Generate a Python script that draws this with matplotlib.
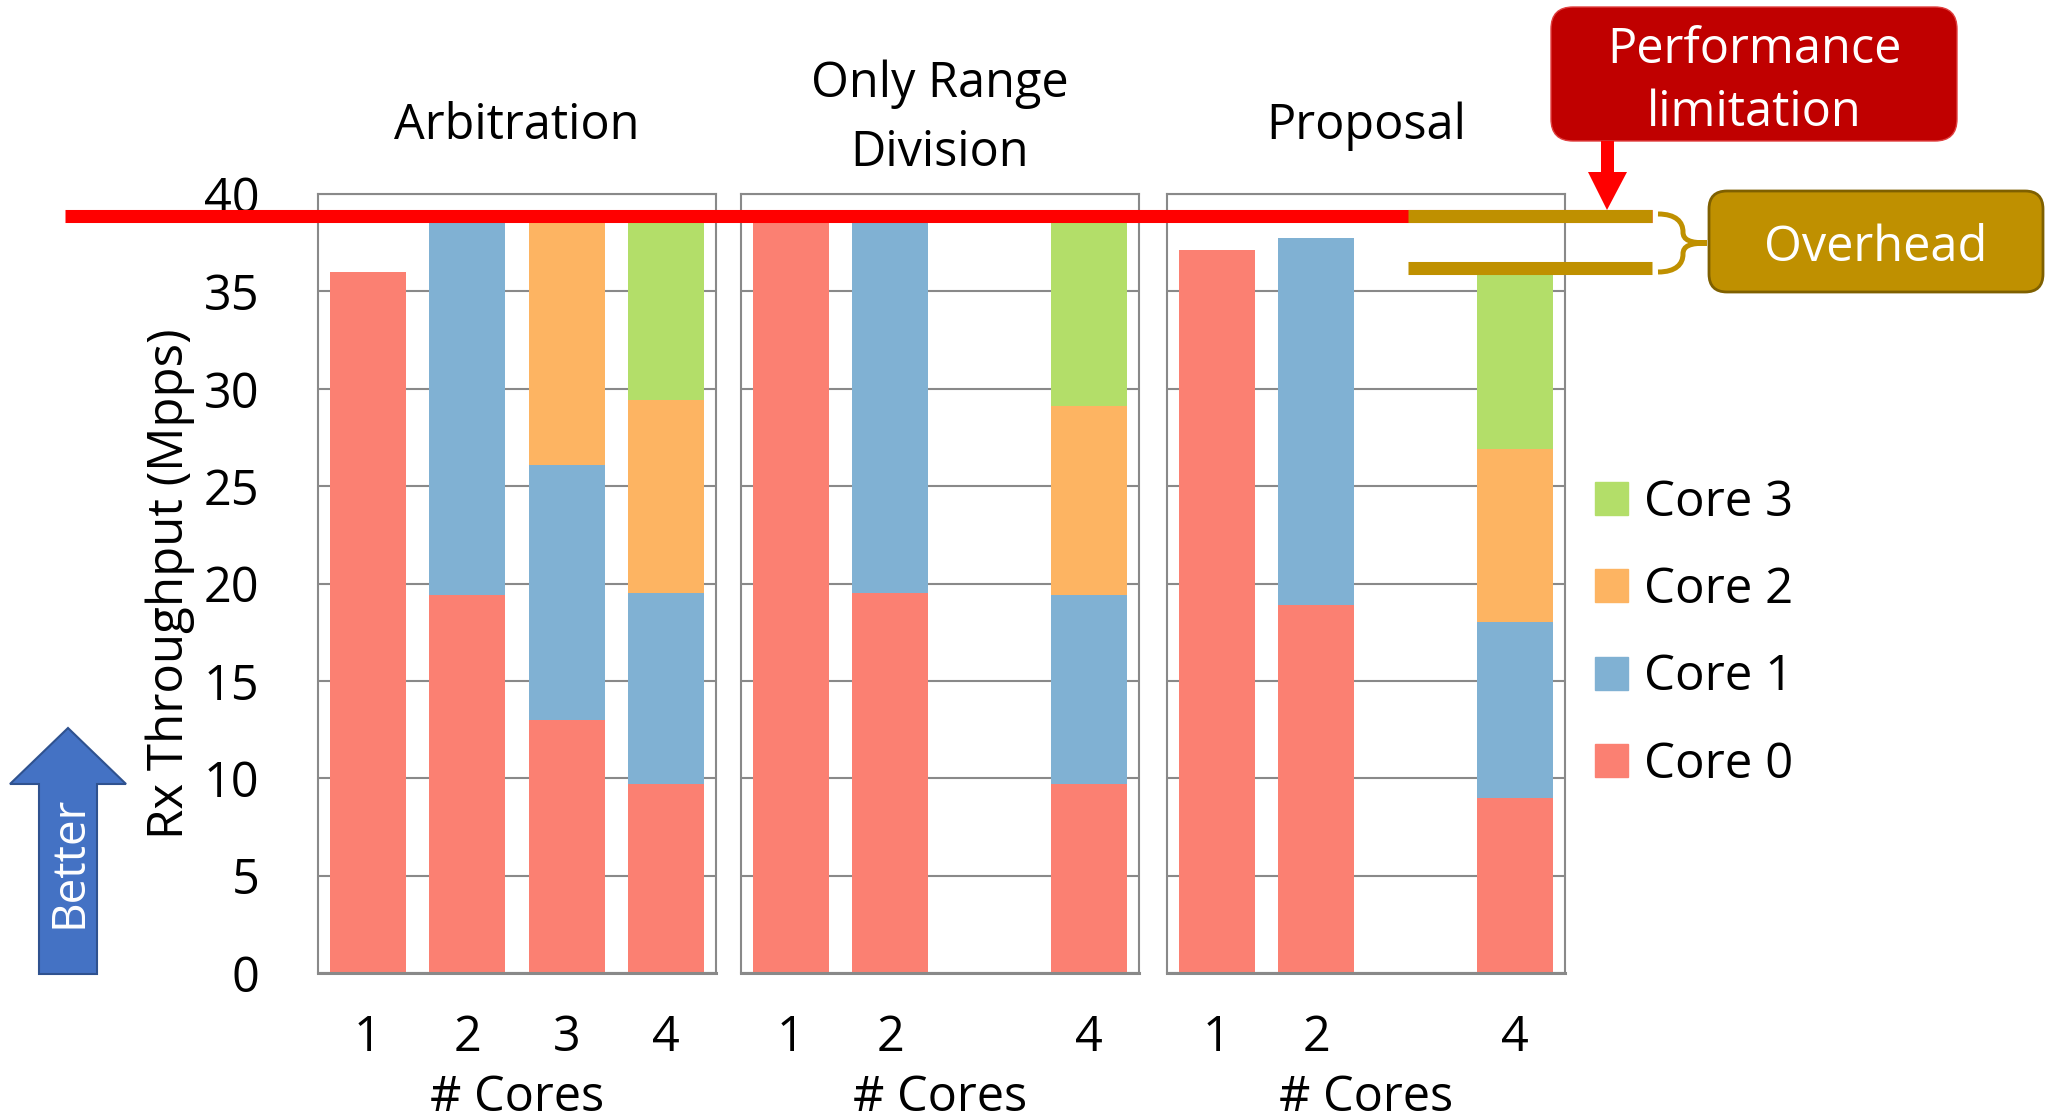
import matplotlib
matplotlib.use("Agg")
import matplotlib.pyplot as plt
from matplotlib.patches import Patch, FancyBboxPatch, Polygon, PathPatch
from matplotlib.path import Path
from matplotlib.transforms import blended_transform_factory

plt.rcParams['font.family'] = ['Open Sans', 'DejaVu Sans']

W, H = 2051, 1118
FS = 35

# --- datos (Mpps por core, apilados) ---
core_labels = ["Core 0", "Core 1", "Core 2", "Core 3"]
core_colors = ["#FB8072", "#80B1D3", "#FDB462", "#B3DE69"]

panel_titles = ["Arbitration", "Only Range\nDivision", "Proposal"]

arb_cores = ["1", "2", "3", "4"]
arb_core0 = [36.0, 19.4, 13.0, 9.7]
arb_core1 = [0.0, 19.4, 13.1, 9.8]
arb_core2 = [0.0, 0.0, 12.7, 9.9]
arb_core3 = [0.0, 0.0, 0.0, 9.4]

ord_cores = ["1", "2", "4"]
ord_core0 = [38.8, 19.5, 9.7]
ord_core1 = [0.0, 19.3, 9.7]
ord_core2 = [0.0, 0.0, 9.7]
ord_core3 = [0.0, 0.0, 9.7]

prop_cores = ["1", "2", "4"]
prop_core0 = [37.1, 18.9, 9.0]
prop_core1 = [0.0, 18.85, 9.0]
prop_core2 = [0.0, 0.0, 8.9]
prop_core3 = [0.0, 0.0, 9.1]

perf_limit = 38.85      # linea roja
overhead_floor = 36.2   # tope de la propuesta con 4 cores
y_ticks = [0, 5, 10, 15, 20, 25, 30, 35, 40]

panels = [
    (arb_cores, [arb_core0, arb_core1, arb_core2, arb_core3]),
    (ord_cores, [ord_core0, ord_core1, ord_core2, ord_core3]),
    (prop_cores, [prop_core0, prop_core1, prop_core2, prop_core3]),
]

fig = plt.figure(figsize=(W / 100, H / 100), dpi=100)

lefts = [318, 741, 1167]
ax_w = 398
bot_px, top_px = 973, 194
grid_c = "#898989"

axes = []
for i, (left, (cores, stacks)) in enumerate(zip(lefts, panels)):
    ax = fig.add_axes([left / W, 1 - bot_px / H, ax_w / W, (bot_px - top_px) / H])
    x = [int(c) - 1 for c in cores]
    base = [0.0] * len(x)
    for vals, color, lab in zip(stacks, core_colors, core_labels):
        ax.bar(x, vals, width=0.76, bottom=base, color=color, label=lab,
               edgecolor="none", zorder=2)
        base = [b + v for b, v in zip(base, vals)]

    ax.set_xlim(-0.5, 3.5)
    ax.set_ylim(0, 40)
    ax.set_yticks(y_ticks)
    ax.set_xticks(x)
    ax.set_xticklabels(cores)
    ax.grid(axis="y", color=grid_c, lw=1.5, zorder=0)
    ax.set_axisbelow(True)
    for s in ax.spines.values():
        s.set_color(grid_c)
        s.set_linewidth(1.5)
    ax.spines["bottom"].set_linewidth(2.2)
    ax.tick_params(length=0, labelsize=FS)
    ax.tick_params(axis="x", pad=29)
    if i == 0:
        ax.tick_params(axis="y", pad=42)
    else:
        ax.tick_params(axis="y", labelleft=False)
    ax.set_xlabel("# Cores", fontsize=FS, labelpad=8)
    ty = 1.0963 if "\n" in panel_titles[i] else 1.0868
    ax.text(0.5, ty, panel_titles[i], transform=ax.transAxes, ha="center",
            va="center", fontsize=FS, linespacing=1.52)
    axes.append(ax)

ax1 = axes[0]
ax1.set_ylabel("Rx Throughput (Mpps)", fontsize=FS + 0.5, va="center")
ax1.yaxis.set_label_coords(-0.372, 0.5)

# leyenda (orden invertido como en el original)
handles = [Patch(color=c, label=l) for c, l in zip(core_colors, core_labels)][::-1]
axes[2].legend(handles=handles, loc="center left",
               bbox_to_anchor=(1595 / W, (H - 634) / H),
               bbox_transform=fig.transFigure, frameon=False, fontsize=FS + 0.5,
               handlelength=0.66, handleheight=0.66, handletextpad=0.33,
               labelspacing=0.77, borderpad=0, borderaxespad=0)

# --- capa de anotaciones en pixeles ---
ov = fig.add_axes([0, 0, 1, 1], zorder=10)
ov.set_xlim(0, W)
ov.set_ylim(H, 0)
ov.axis("off")
blend = blended_transform_factory(ov.transData, ax1.transData)

ov.plot([65, 1652], [perf_limit, perf_limit], transform=blend,
        color="#FF0000", lw=9.4, solid_capstyle="butt")
ov.plot([1408, 1652], [perf_limit, perf_limit], transform=blend,
        color="#BF9000", lw=9.4, solid_capstyle="butt")
ov.plot([1408, 1652], [overhead_floor, overhead_floor], transform=blend,
        color="#BF9000", lw=9.4, solid_capstyle="butt")

# llave
verts = [(1658, 214), (1676, 214), (1683, 222), (1683, 232),
         (1683, 240), (1690, 243), (1707, 243),
         (1690, 243), (1683, 246), (1683, 254),
         (1683, 264), (1676, 272), (1658, 272)]
codes = [Path.MOVETO] + [Path.CURVE4] * 12
ov.add_patch(PathPatch(Path(verts, codes), fc="none", ec="#BF9000", lw=3.6))

# caja "Performance limitation" + flecha
ov.add_patch(FancyBboxPatch((1551, 7), 406, 134,
                            boxstyle="round,pad=0,rounding_size=22",
                            fc="#C00000", ec="#E04040", lw=1))
ov.text(1754, 82, "Performance\nlimitation", ha="center", va="center",
        color="white", fontsize=FS, linespacing=1.36)
ov.add_patch(Polygon([(1601, 141), (1614, 141), (1614, 172), (1627, 172),
                      (1607, 210), (1588, 172), (1601, 172)],
                     closed=True, fc="#FF0000", ec="none"))

# caja "Overhead"
ov.add_patch(FancyBboxPatch((1709, 191), 334, 101,
                            boxstyle="round,pad=0,rounding_size=18",
                            fc="#BF9000", ec="#7F6000", lw=2))
ov.text(1876, 248, "Overhead", ha="center", va="center", color="white",
        fontsize=FS)

# flecha "Better"
ov.add_patch(Polygon([(39, 974), (97, 974), (97, 784), (126, 784), (68, 728),
                      (10, 784), (39, 784)],
                     closed=True, fc="#4472C4", ec="#2F528F", lw=1.5))
ov.text(69, 862, "Better", ha="center", va="center", rotation=90,
        color="white", fontsize=33)

fig.savefig("out.png", dpi=100)
